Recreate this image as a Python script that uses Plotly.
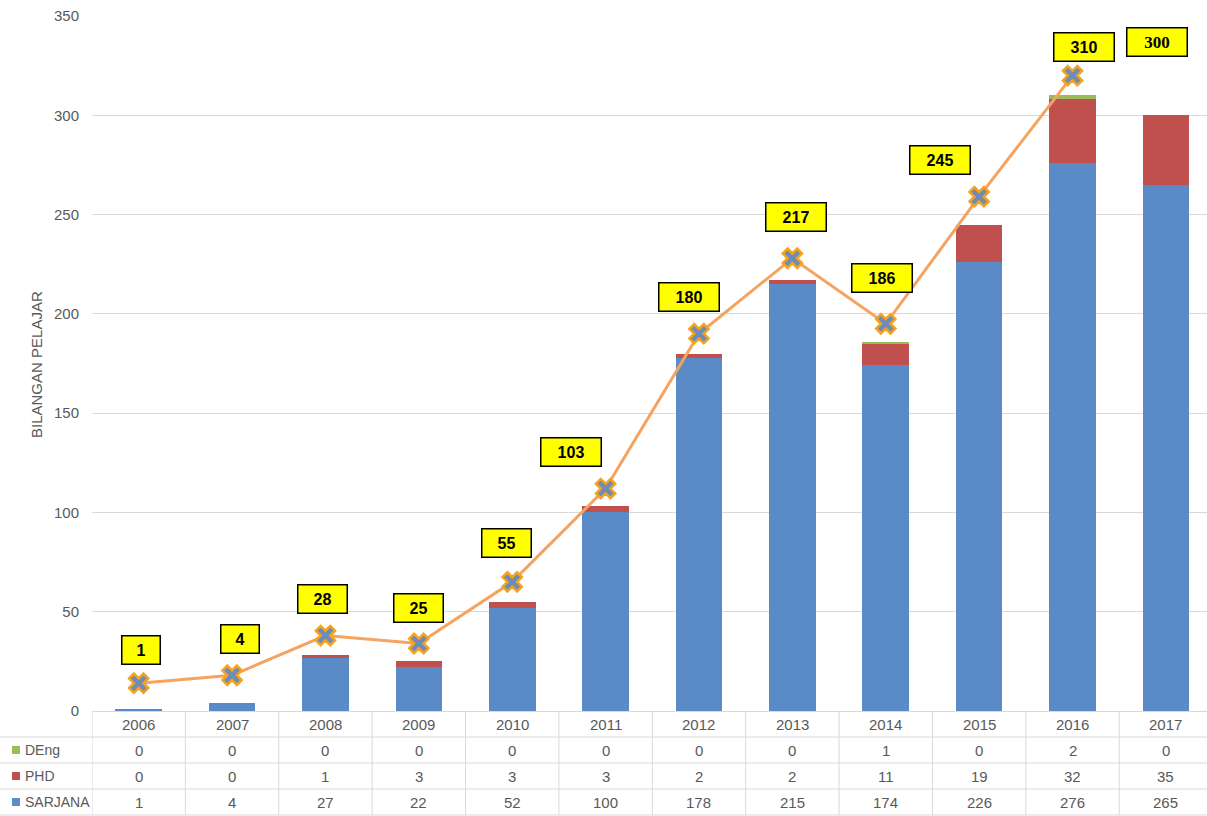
import plotly.graph_objects as go

# ---------------- data ----------------
years = ["2006", "2007", "2008", "2009", "2010", "2011",
         "2012", "2013", "2014", "2015", "2016", "2017"]
sarjana = [1, 4, 27, 22, 52, 100, 178, 215, 174, 226, 276, 265]
phd = [0, 0, 1, 3, 3, 3, 2, 2, 11, 19, 32, 35]
deng = [0, 0, 0, 0, 0, 0, 0, 0, 1, 0, 2, 0]
totals = [1, 4, 28, 25, 55, 103, 180, 217, 186, 245, 310, 300]
trend = [14, 18, 38, 34, 65, 112, 190, 228, 195, 259, 320, None]
series_names = ["DEng", "PHD", "SARJANA"]
y_title = "BILANGAN PELAJAR"

# ---------------- style ----------------
BLUE = "#5B8BC6"
RED = "#C0504D"
GREEN = "#9BBB59"
LINE_ORANGE = "#F5A35E"
GRID = "#D9D9D9"
TXT = "#595959"
FONT = "Liberation Sans"

W, H = 1207, 816
L, R, T, B = 92, 0, 16, 105
pw = W - L - R
ph = H - T - B


def px(x):
    return (x - L) / pw


def py(y):
    return (H - B - y) / ph


# label offsets (pixels) for yellow total boxes
label_dx = [2, 8, -3, 0, -6, -35, -10, 4, -4, -39, 11, -9]
label_dy = [33, 36, 37, 35, 39, 37, 37, 41, 46, 37, 29, 73]

fig = go.Figure()
fig.add_bar(x=years, y=sarjana, name="SARJANA", marker_color=BLUE, width=0.5,
            marker_line_width=0)
fig.add_bar(x=years, y=phd, name="PHD", marker_color=RED, width=0.5,
            marker_line_width=0)
fig.add_bar(x=years, y=deng, name="DEng", marker_color=GREEN, width=0.5,
            marker_line_width=0)
fig.add_scatter(x=years, y=trend, mode="lines+markers", name="Jumlah",
                line=dict(color=LINE_ORANGE, width=3),
                marker=dict(symbol="x", size=17, color="#6F8DB4",
                            line=dict(color="#F7A21C", width=2.5)))

annotations = []
# yellow total labels
for i, tot in enumerate(totals):
    anchor = trend[i] if trend[i] is not None else tot
    txt = str(tot)
    serif = trend[i] is None
    annotations.append(dict(
        x=i, y=anchor, xref="x", yref="y", text="<b>%s</b>" % txt,
        showarrow=False, xshift=label_dx[i], yshift=label_dy[i],
        font=dict(family="Liberation Serif" if serif else FONT,
                  size=17 if serif else 16, color="#000000"),
        bgcolor="#FFFF00", bordercolor="#000000", borderwidth=1.5,
        borderpad=3, width=20 + 11 * len(txt), height=21,
        xanchor="center", yanchor="middle"))

# data table
row_y = {"year": 724, "DEng": 750, "PHD": 776, "SARJANA": 802}
row_vals = {"DEng": deng, "PHD": phd, "SARJANA": sarjana}
row_col = {"DEng": GREEN, "PHD": RED, "SARJANA": BLUE}
for i, yr in enumerate(years):
    annotations.append(dict(x=i, y=py(row_y["year"]), xref="x", yref="paper",
                            text=yr, showarrow=False,
                            font=dict(family=FONT, size=15, color=TXT),
                            xanchor="center", yanchor="middle"))
    for nm in series_names:
        annotations.append(dict(x=i, y=py(row_y[nm]), xref="x", yref="paper",
                                text=str(row_vals[nm][i]), showarrow=False,
                                font=dict(family=FONT, size=15, color=TXT),
                                xanchor="center", yanchor="middle"))

shapes = []
for nm in series_names:
    annotations.append(dict(x=px(23), y=py(row_y[nm]), xref="paper", yref="paper",
                            text=nm, showarrow=False,
                            font=dict(family=FONT, size=14, color=TXT),
                            xanchor="left", yanchor="middle"))
    shapes.append(dict(type="rect", xref="paper", yref="paper",
                       x0=px(12), x1=px(20),
                       y0=py(row_y[nm] + 4), y1=py(row_y[nm] - 4),
                       fillcolor=row_col[nm], line=dict(width=0)))

# y title
annotations.append(dict(x=px(36), y=py(365), xref="paper", yref="paper",
                        text=y_title, textangle=-90, showarrow=False,
                        font=dict(family=FONT, size=15, color=TXT),
                        xanchor="center", yanchor="middle"))

# table grid lines
for yy in [737, 763, 789, 815]:
    shapes.append(dict(type="line", xref="paper", yref="paper",
                       x0=px(0), x1=1, y0=py(yy), y1=py(yy),
                       line=dict(color=GRID, width=1)))
for i in range(len(years) + 1):
    shapes.append(dict(type="line", xref="x", yref="paper",
                       x0=i - 0.5, x1=i - 0.5, y0=0, y1=py(815),
                       line=dict(color=GRID, width=1)))

fig.update_layout(
    width=W, height=H,
    margin=dict(l=L, r=R, t=T, b=B, pad=0),
    barmode="stack",
    showlegend=False,
    plot_bgcolor="white",
    paper_bgcolor="white",
    font=dict(family=FONT, color=TXT),
    annotations=annotations,
    shapes=shapes,
    xaxis=dict(type="category", range=[-0.5, 11.44], showticklabels=False,
               showgrid=False, zeroline=False, showline=False, ticks="",
               fixedrange=True),
    yaxis=dict(range=[0, 350], dtick=50, showgrid=True, gridcolor=GRID,
               gridwidth=1, zeroline=True, zerolinecolor=GRID, zerolinewidth=1,
               showline=False, ticks="", ticklabelstandoff=12,
               tickfont=dict(family=FONT, size=15, color=TXT)),
)

fig.write_html("out.html",
               config={"displayModeBar": False},
               post_script="document.body.style.margin='0';"
                           "document.body.style.overflow='hidden';")
